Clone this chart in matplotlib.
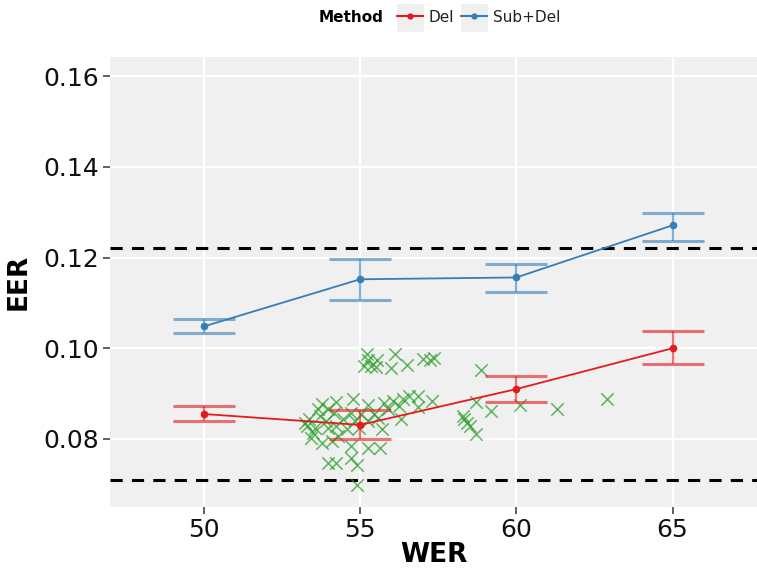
import matplotlib
matplotlib.use("Agg")
import matplotlib.pyplot as plt
from matplotlib.lines import Line2D
from matplotlib.patches import Rectangle
import numpy as np

# ---- data ----
wer_levels = [50, 55, 60, 65]

del_eer = [0.0855, 0.0831, 0.0910, 0.1000]
del_lo = [0.0840, 0.0800, 0.0882, 0.0965]
del_hi = [0.0873, 0.0864, 0.0939, 0.1037]

subdel_eer = [0.1048, 0.1152, 0.1156, 0.1271]
subdel_lo = [0.1033, 0.1106, 0.1123, 0.1237]
subdel_hi = [0.1064, 0.1196, 0.1185, 0.1299]

ref_upper = 0.1220
ref_lower = 0.0710

scatter_wer = [55.21, 56.12, 55.24, 55.53, 55.35, 55.51, 56.00, 56.51, 57.00, 57.24,
               57.37, 55.13, 58.87, 58.71, 59.20, 60.11, 61.31, 62.91, 58.28, 58.33,
               58.41, 58.51, 58.71, 53.77, 54.24, 54.77, 55.24, 55.77, 56.04, 56.37,
               56.57, 56.84, 57.31, 56.84, 53.64, 53.97, 54.17, 54.71, 55.04, 55.44,
               55.91, 56.24, 53.37, 53.71, 53.91, 54.44, 54.84, 55.24, 55.57, 56.31,
               53.31, 53.57, 53.97, 54.24, 54.57, 54.97, 55.71, 53.44, 53.77, 54.11,
               54.71, 55.24, 55.64, 53.97, 54.24, 54.71, 54.91, 54.91, 53.51, 54.31,
               53.24]
scatter_eer = [0.0988, 0.0988, 0.0974, 0.0973, 0.0961, 0.0959, 0.0957, 0.0964, 0.0976, 0.0974,
               0.0979, 0.0960, 0.0951, 0.0881, 0.0861, 0.0874, 0.0865, 0.0888, 0.0850, 0.0843,
               0.0835, 0.0828, 0.0810, 0.0876, 0.0881, 0.0888, 0.0874, 0.0879, 0.0883, 0.0888,
               0.0894, 0.0894, 0.0883, 0.0871, 0.0865, 0.0865, 0.0857, 0.0857, 0.0854, 0.0854,
               0.0865, 0.0872, 0.0843, 0.0850, 0.0839, 0.0843, 0.0839, 0.0839, 0.0846, 0.0844,
               0.0828, 0.0824, 0.0824, 0.0828, 0.0821, 0.0824, 0.0821, 0.0802, 0.0791, 0.0795,
               0.0784, 0.0780, 0.0780, 0.0747, 0.0746, 0.0758, 0.0743, 0.0699, 0.0813, 0.0806,
               0.0835]

x_ticks = [50, 55, 60, 65]
y_ticks = [0.08, 0.10, 0.12, 0.14, 0.16]
y_ticklabels = ["0.08", "0.10", "0.12", "0.14", "0.16"]
series_names = ["Del", "Sub+Del"]

RED = "#e41a1c"
BLUE = "#377eb8"
GREEN = "#2ca02c"

W, H = 757, 568
fig = plt.figure(figsize=(W / 100, H / 100), dpi=100)
ax = fig.add_axes([110 / W, 1 - 507 / H, (757 - 110) / W, (507 - 57) / H])
ax.set_facecolor("#f0f0f0")
for s in ax.spines.values():
    s.set_visible(False)
ax.grid(True, color="white", linewidth=1.6, zorder=0)
ax.set_axisbelow(True)

ax.set_xlim(47.0, 67.7)
ax.set_ylim(0.0650, 0.1642)
ax.set_xticks(x_ticks)
ax.set_yticks(y_ticks)
ax.set_yticklabels(y_ticklabels)
ax.tick_params(axis="both", labelsize=18, length=5, width=1.2, color="#444444",
               labelcolor="#111111", pad=3)

ax.axhline(ref_upper, color="black", linewidth=2.2, linestyle=(0, (4, 3)), zorder=2)
ax.axhline(ref_lower, color="black", linewidth=2.2, linestyle=(0, (4, 3)), zorder=2)

ax.scatter(scatter_wer, scatter_eer, marker="x", s=80, color=GREEN, alpha=0.75,
           linewidths=1.1, zorder=3)

def series(y, lo, hi, color):
    y = np.array(y); lo = np.array(lo); hi = np.array(hi)
    ax.errorbar(wer_levels, y, yerr=[y - lo, hi - y], fmt="none", ecolor=color,
                elinewidth=1.6, capsize=22.5, capthick=2.2, alpha=0.6, zorder=4)
    ax.plot(wer_levels, y, color=color, linewidth=1.3, marker="o", markersize=4.5,
            zorder=5)

series(del_eer, del_lo, del_hi, RED)
series(subdel_eer, subdel_lo, subdel_hi, BLUE)

ax.set_xlabel("WER", fontsize=19, fontweight="bold", labelpad=0)
ax.set_ylabel("EER", fontsize=19, fontweight="bold", labelpad=8)

# legend
for x0 in (397, 461):
    fig.patches.append(Rectangle((x0 / W, 1 - 32 / H), 27 / W, 28 / H,
                                 transform=fig.transFigure, facecolor="#f0f0f0",
                                 edgecolor="none", zorder=0))
fig.text(351 / W, 1 - 17 / H, "Method", fontsize=11, fontweight="bold",
         ha="center", va="center")
handles = [Line2D([0], [0], color=RED, linewidth=1.5, marker="o", markersize=3.5),
           Line2D([0], [0], color=BLUE, linewidth=1.5, marker="o", markersize=3.5)]
fig.legend(handles, series_names, loc="center left",
           bbox_to_anchor=(397 / W, 1 - 17 / H), ncol=2, frameon=False,
           fontsize=11, handlelength=1.7, handletextpad=0.35, columnspacing=0.5,
           borderpad=0, borderaxespad=0, labelcolor="#222222")

fig.savefig("out.png", dpi=100)
